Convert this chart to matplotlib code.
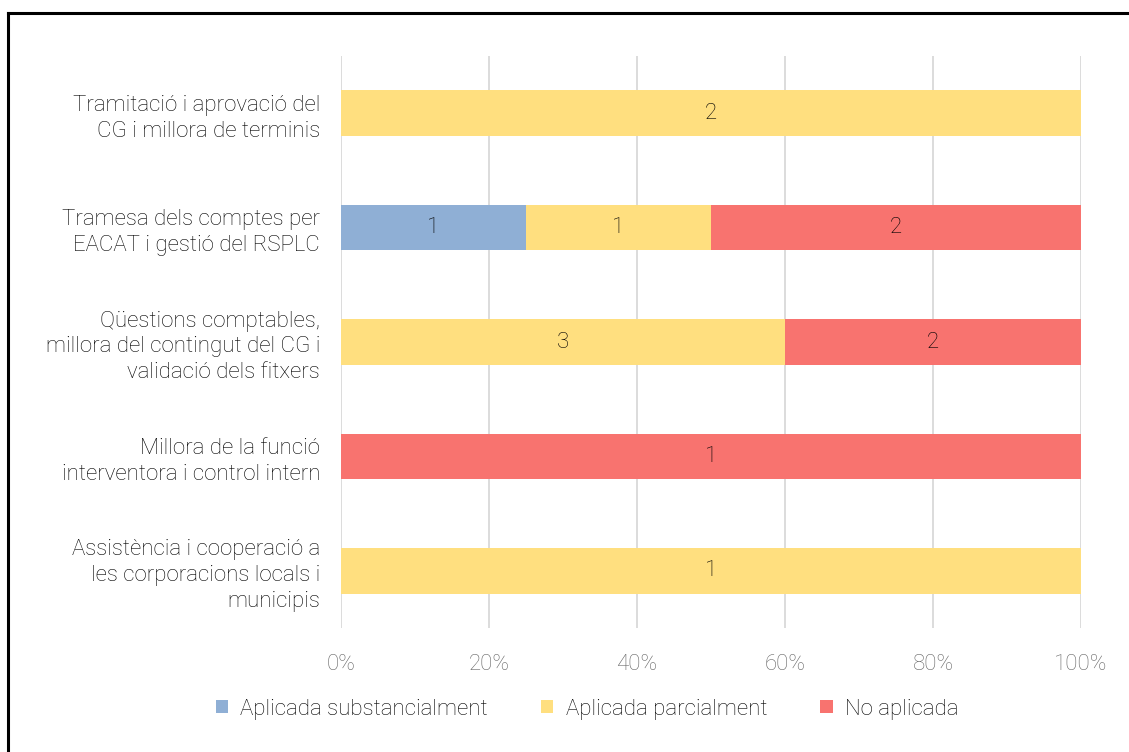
import matplotlib
matplotlib.use('Agg')
import matplotlib.pyplot as plt
from matplotlib.lines import Line2D
from matplotlib.patches import Patch
import numpy as np

plt.rcParams['font.family'] = ['Roboto', 'DejaVu Sans']

categories = [
    'Tramitació i aprovació del\nCG i millora de terminis',
    'Tramesa dels comptes per\nEACAT i gestió del RSPLC',
    'Qüestions comptables,\nmillora del contingut del CG i\nvalidació dels fitxers',
    'Millora de la funció\ninterventora i control intern',
    'Assistència i cooperació a\nles corporacions locals i\nmunicipis',
]
series_names = ['Aplicada substancialment', 'Aplicada parcialment', 'No aplicada']
substancial = [0, 1, 0, 0, 0]
parcial = [2, 1, 3, 0, 1]
no_aplicada = [0, 2, 2, 1, 0]
colors = ['#8FAFD5', '#FFDF7F', '#F8736F']
x_ticks = [0, 20, 40, 60, 80, 100]

counts = np.array([substancial, parcial, no_aplicada], dtype=float)
totals = counts.sum(axis=0)
pct = counts / totals * 100

fs = 16
txt_color = '#000000'

fig = plt.figure(figsize=(11.29, 7.52), dpi=100)
ax = fig.add_axes([0.302, 0.1649, 0.6555, 0.7606])

y = np.arange(len(categories))
left = np.zeros(len(categories))
for i in range(3):
    bars = ax.barh(y, pct[i], left=left, height=0.4, color=colors[i], zorder=2)
    for j, b in enumerate(bars):
        if counts[i][j] > 0:
            ax.text(left[j] + pct[i][j] / 2, y[j], str(int(counts[i][j])),
                    ha='center', va='center', fontsize=fs, color=txt_color,
                    fontweight='light', zorder=3)
    left += pct[i]

ax.set_ylim(len(categories) - 0.5, -0.5)
ax.set_xlim(0, 100)
ax.set_xticks(x_ticks)
ax.set_xticklabels([f'{t}%' for t in x_ticks])
ax.set_yticks(y)
ax.set_yticklabels(categories, fontsize=fs, color=txt_color, fontweight='light',
                   linespacing=1.3)
ax.tick_params(axis='x', length=0, pad=19, labelsize=fs, labelcolor='#666666')
ax.tick_params(axis='y', length=0, pad=15)
for lbl in ax.get_xticklabels():
    lbl.set_fontweight('light')
for lbl in ax.get_yticklabels():
    lbl.set_horizontalalignment('right')
ax.xaxis.grid(True, color='#D9D9D9', linewidth=1.3, zorder=0)
ax.set_axisbelow(True)
for s in ax.spines.values():
    s.set_visible(False)

handles = [Patch(facecolor=c) for c in colors]
leg = fig.legend(handles, series_names, loc='center', bbox_to_anchor=(0.52, 0.057),
                 ncol=3, frameon=False, fontsize=fs, handlelength=0.55, handleheight=0.55,
                 handletextpad=0.55, columnspacing=2.4)
for t in leg.get_texts():
    t.set_fontweight('light')
    t.set_color(txt_color)

# frame lines (top and left)
fig.add_artist(Line2D([0.0071, 1.0], [0.983, 0.983], transform=fig.transFigure,
                      color='black', linewidth=2.2))
fig.add_artist(Line2D([0.0071, 0.0071], [0.0, 0.983], transform=fig.transFigure,
                      color='black', linewidth=2.2))

fig.savefig('out.png', dpi=100)
